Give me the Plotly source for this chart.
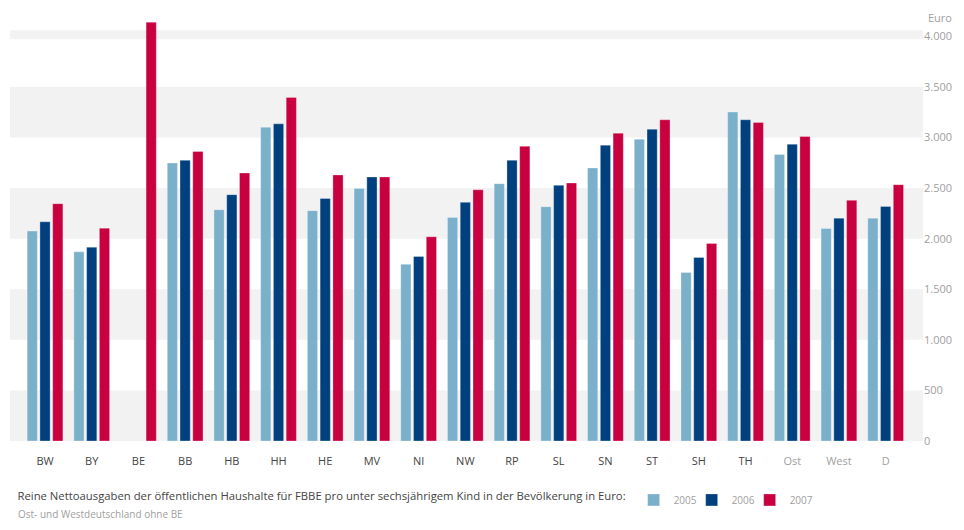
import plotly.graph_objects as go

# Bundeslaender plus Ost / West / D
laender = ['BW', 'BY', 'BE', 'BB', 'HB', 'HH', 'HE', 'MV', 'NI', 'NW',
           'RP', 'SL', 'SN', 'ST', 'SH', 'TH', 'Ost', 'West', 'D']
# Euro pro Kind unter 6 Jahren (BE nur 2007)
werte_2005 = [2075, 1870, None, 2748, 2286, 3102, 2276, 2497, 1747, 2210,
              2544, 2316, 2699, 2983, 1665, 3251, 2831, 2101, 2203]
werte_2006 = [2167, 1916, None, 2775, 2435, 3135, 2397, 2610, 1824, 2359,
              2775, 2527, 2924, 3082, 1814, 3175, 2934, 2203, 2319]
werte_2007 = [2346, 2104, 4140, 2861, 2649, 3396, 2630, 2610, 2019, 2484,
              2914, 2550, 3043, 3175, 1952, 3149, 3010, 2379, 2534]
y_ticks = [0, 500, 1000, 1500, 2000, 2500, 3000, 3500, 4000]

farben = {'2005': '#7bb0cb', '2006': '#00407f', '2007': '#c8003f'}

fig = go.Figure()
for jahr, werte in [('2005', werte_2005), ('2006', werte_2006), ('2007', werte_2007)]:
	# last legend entry gets more room so its label is not clipped
	lw = 30 if jahr == '2007' else 13
	fig.add_trace(go.Bar(name=jahr, x=laender, y=werte, marker_color=farben[jahr],
		marker_line=dict(color='rgba(255,255,255,0.6)', width=0.5), legendwidth=lw))

# grey horizontal bands behind the bars
baender = [(0, 500), (1000, 1500), (2000, 2500), (3000, 3500), (3970, 4060)]
for y0, y1 in baender:
	fig.add_shape(type='rect', xref='paper', yref='y', x0=0, x1=1, y0=y0, y1=y1,
		fillcolor='#f2f2f2', line_width=0, layer='below')

# tick label colours: Ost/West/D lighter
ticktext = []
for l in laender:
	if l in ('Ost', 'West', 'D'):
		ticktext.append('<span style="color:#a0a0a0">' + l + '</span>')
	else:
		ticktext.append(l)

# page body has an 8px margin, so the figure is 16px smaller than the window
fig.update_layout(
	width=948, height=514,
	margin=dict(l=2, r=33, t=0, b=81, autoexpand=False),
	paper_bgcolor='white', plot_bgcolor='white',
	barmode='group', bargap=0.18, bargroupgap=0.2,
	separators=',.',
	font=dict(family='Open Sans, Noto Sans, sans-serif', size=11, color='#444444'),
	showlegend=True,
	legend=dict(orientation='h', x=0.006, xanchor='left', y=-0.136, yanchor='middle',
		font=dict(size=10, color='#a0a0a0'), itemwidth=30, tracegroupgap=0,
		title=dict(text='Reine Nettoausgaben der öffentlichen Haushalte für FBBE pro unter sechsjährigem Kind in der Bevölkerung in Euro:',
			side='left', font=dict(size=11.3, color='#444444'))),
	annotations=[
		dict(text='Euro', xref='paper', yref='paper', x=1.003, y=0.977, xanchor='left', yanchor='middle',
			showarrow=False, font=dict(size=11, color='#a0a0a0')),
		dict(text='Ost- und Westdeutschland ohne BE', xref='paper', yref='paper', x=0.007, y=-0.168,
			xanchor='left', yanchor='middle', showarrow=False, font=dict(size=10, color='#a0a0a0')),
	],
)
fig.update_xaxes(range=[-0.75, 18.8], tickvals=laender, ticktext=ticktext, showgrid=False,
	zeroline=False, showline=False, ticks='', ticklabelstandoff=12,
	tickfont=dict(size=11, color='#444444'))
fig.update_yaxes(range=[0, 4280], side='right', tickvals=y_ticks, tickformat=',d', showgrid=False,
	zeroline=False, showline=False, ticks='', tickfont=dict(size=11, color='#a0a0a0'))

fig.write_html('out.html')
